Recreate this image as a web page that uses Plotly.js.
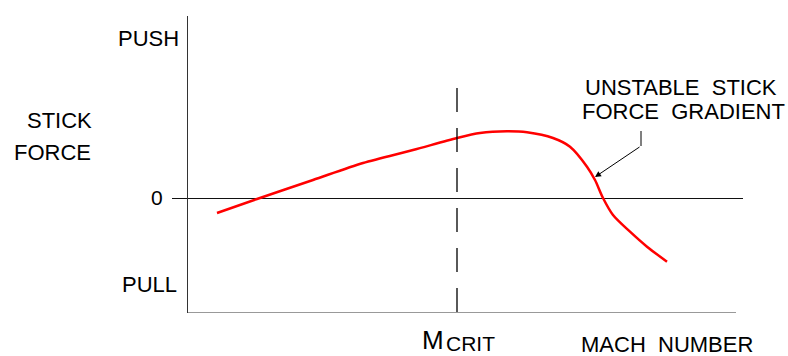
<!DOCTYPE html>
<html>
<head>
<meta charset="utf-8">
<script src="https://cdn.plot.ly/plotly-3.0.1.min.js"></script>
<style>html,body{margin:0;padding:0;background:#fff;}#chart{width:788px;height:356px;}</style>
</head>
<body>
<div id="chart"></div>
<script>
// Mach number (arbitrary units) and stick force (arbitrary units, + push / - pull)
var machNumber = [0.29, 0.69, 1.25, 1.75, 2.25, 2.69, 2.92, 3.19, 3.39, 3.65, 3.82, 3.99, 4.07, 4.15, 4.25, 4.42, 4.59, 4.79];
var stickForce = [-0.15, -0.01, 0.18, 0.35, 0.48, 0.60, 0.65, 0.667, 0.657, 0.60, 0.513, 0.313, 0.18, 0.0, -0.17, -0.337, -0.487, -0.637];
var mCrit = 2.69;
var yTickVals = [0];
var yTickText = ['0'];
var xRange = [0, 5.55];
var yRange = [-1.15, 1.82];

var F = 'Liberation Sans, Arial, sans-serif';
var gap = '\u00a0\u00a0';

var data = [{
  x: machNumber, y: stickForce, type: 'scatter', mode: 'lines',
  line: {color: '#ff0000', width: 2.5, shape: 'spline', smoothing: 0.8},
  hoverinfo: 'none'
}];

function px(x) { return (x - xRange[0]) / (xRange[1] - xRange[0]); }
function py(y) { return (y - yRange[0]) / (yRange[1] - yRange[0]); }

function ann(text, x, y, xanchor, size) {
  return {text: text, x: px(x), y: py(y), xref: 'paper', yref: 'paper', xanchor: xanchor, yanchor: 'middle',
    showarrow: false, font: {family: F, size: size, color: '#000'}};
}

var layout = {
  width: 788, height: 356,
  margin: {l: 188, r: 45, t: 16, b: 43, pad: 0},
  paper_bgcolor: '#fff', plot_bgcolor: '#fff',
  showlegend: false,
  xaxis: {range: xRange, showgrid: false, zeroline: false, showline: false, showticklabels: false, ticks: '', fixedrange: true},
  yaxis: {range: yRange, showgrid: false, zeroline: true, zerolinecolor: '#111', zerolinewidth: 1,
    showline: true, linecolor: '#333', linewidth: 1, mirror: false,
    tickmode: 'array', tickvals: yTickVals, ticktext: yTickText, ticks: 'outside', ticklen: 15, tickcolor: '#111', tickwidth: 1,
    tickfont: {family: F, size: 21, color: '#000'}, ticklabelstandoff: 5, fixedrange: true},
  shapes: [
    {type: 'line', xref: 'x', yref: 'y', x0: mCrit, x1: mCrit, y0: 1.10, y1: yRange[0],
      line: {color: '#000', width: 1.3, dash: '24px,16px'}},
    {type: 'line', xref: 'x', yref: 'y', x0: 0, x1: 5.48, y0: yRange[0], y1: yRange[0],
      line: {color: '#777', width: 1.5}},
    {type: 'line', xref: 'x', yref: 'y', x0: 4.53, x1: 4.53, y0: 0.67, y1: 0.52,
      line: {color: '#000', width: 1}}
  ],
  annotations: [
    ann('PUSH', -0.07, 1.593, 'right', 22),
    ann('PULL', -0.095, -0.86, 'right', 22),
    ann('STICK', -0.945, 0.77, 'right', 22),
    ann('FORCE', -0.95, 0.455, 'right', 22),
    ann('MACH' + gap + 'NUMBER', 4.785, -1.465, 'center', 22),
    ann('M', 2.445, -1.42, 'center', 26),
    ann('CRIT', 2.555, -1.45, 'left', 21),
    ann('UNSTABLE' + gap + 'STICK', 5.905, 1.103, 'right', 22),
    ann('FORCE' + gap + 'GRADIENT', 5.985, 0.86, 'right', 22),
    {text: '', x: 4.07, y: 0.21, ax: 4.53, ay: 0.52, xref: 'x', yref: 'y', axref: 'x', ayref: 'y',
      showarrow: true, arrowhead: 2, arrowsize: 1.2, arrowwidth: 1, arrowcolor: '#000'}
  ]
};

Plotly.newPlot('chart', data, layout, {displayModeBar: false, staticPlot: true});
</script>
</body>
</html>
